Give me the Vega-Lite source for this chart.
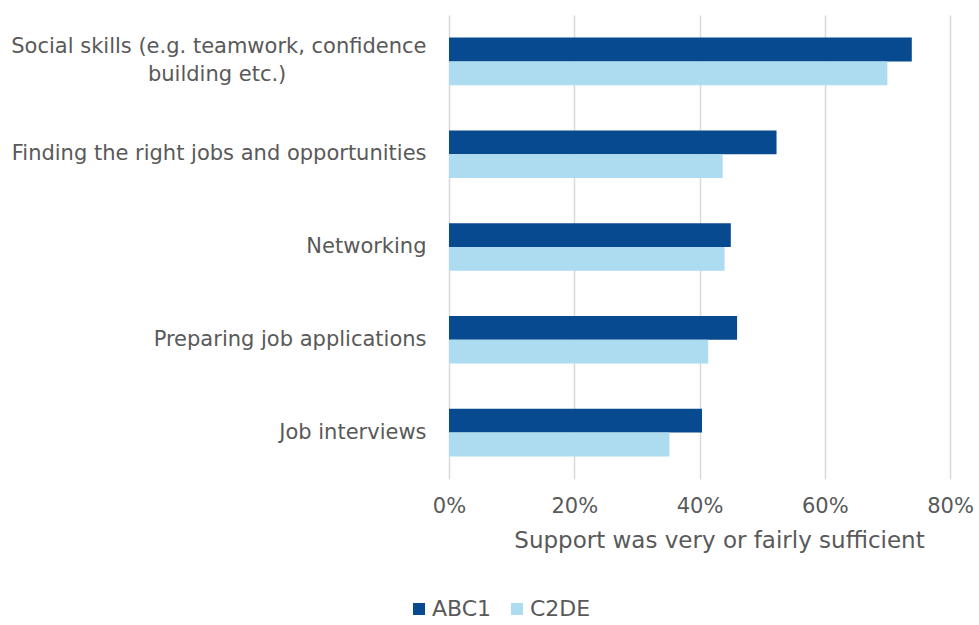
{
  "$schema": "https://vega.github.io/schema/vega-lite/v6.json",
  "width": 501,
  "height": 464,
  "autosize": {"type": "none"},
  "padding": {"left": 449, "top": 15, "right": 29, "bottom": 146},
  "background": "white",
  "config": {"view": {"stroke": null}, "font": "DejaVu Sans"},
  "data": {
    "values": [
      {"category": "Social skills", "group": "ABC1", "value": 73.9},
      {"category": "Social skills", "group": "C2DE", "value": 70.0},
      {"category": "Finding the right jobs and opportunities", "group": "ABC1", "value": 52.3},
      {"category": "Finding the right jobs and opportunities", "group": "C2DE", "value": 43.7},
      {"category": "Networking", "group": "ABC1", "value": 45.0},
      {"category": "Networking", "group": "C2DE", "value": 44.0},
      {"category": "Preparing job applications", "group": "ABC1", "value": 46.0},
      {"category": "Preparing job applications", "group": "C2DE", "value": 41.4},
      {"category": "Job interviews", "group": "ABC1", "value": 40.4},
      {"category": "Job interviews", "group": "C2DE", "value": 35.2}
    ]
  },
  "mark": {"type": "bar"},
  "encoding": {
    "y": {
      "field": "category",
      "type": "nominal",
      "sort": ["Social skills", "Finding the right jobs and opportunities", "Networking", "Preparing job applications", "Job interviews"],
      "scale": {"paddingInner": 0.487, "paddingOuter": 0.2435},
      "axis": {
        "title": null,
        "domain": false,
        "ticks": false,
        "labelFont": "DejaVu Sans",
        "labelFontSize": 21,
        "labelColor": "#595959",
        "labelPadding": 23,
        "labelLimit": 600,
        "labelLineHeight": 28,
        "labelOffset": {"condition": {"test": "datum.value == 'Social skills'", "value": -14}, "value": 0},
        "labelExpr": "datum.value == 'Social skills' ? ['Social skills (e.g. teamwork, confidence', 'building etc.)\u00a0\u00a0\u00a0\u00a0\u00a0\u00a0\u00a0\u00a0\u00a0\u00a0\u00a0\u00a0\u00a0\u00a0\u00a0\u00a0\u00a0\u00a0\u00a0\u00a0\u00a0\u200b'] : datum.value"
      }
    },
    "yOffset": {"field": "group", "type": "nominal", "sort": ["ABC1", "C2DE"]},
    "x": {
      "field": "value",
      "type": "quantitative",
      "scale": {"domain": [0, 80]},
      "axis": {
        "values": [0, 20, 40, 60, 80],
        "labelExpr": "datum.value + '%'",
        "labelFlush": false,
        "grid": true,
        "gridColor": "#d9d9d9",
        "gridWidth": 1.5,
        "domain": false,
        "ticks": false,
        "labelFont": "DejaVu Sans",
        "labelFontSize": 21,
        "labelColor": "#595959",
        "labelPadding": 16,
        "title": "Support was very or fairly sufficient",
        "titleFont": "DejaVu Sans",
        "titleFontSize": 23,
        "titleFontWeight": "normal",
        "titleColor": "#595959",
        "titlePadding": 13,
        "titleX": 270
      }
    },
    "color": {
      "field": "group",
      "type": "nominal",
      "scale": {"domain": ["ABC1", "C2DE"], "range": ["#074a90", "#addbf0"]},
      "legend": {
        "title": null,
        "orient": "none",
        "direction": "horizontal",
        "legendX": -41,
        "legendY": 583,
        "symbolType": "square",
        "symbolSize": 144,
        "symbolStrokeWidth": 0,
        "labelFont": "DejaVu Sans",
        "labelFontSize": 22,
        "labelColor": "#595959",
        "labelOffset": 2,
        "columnPadding": 14
      }
    }
  }
}
